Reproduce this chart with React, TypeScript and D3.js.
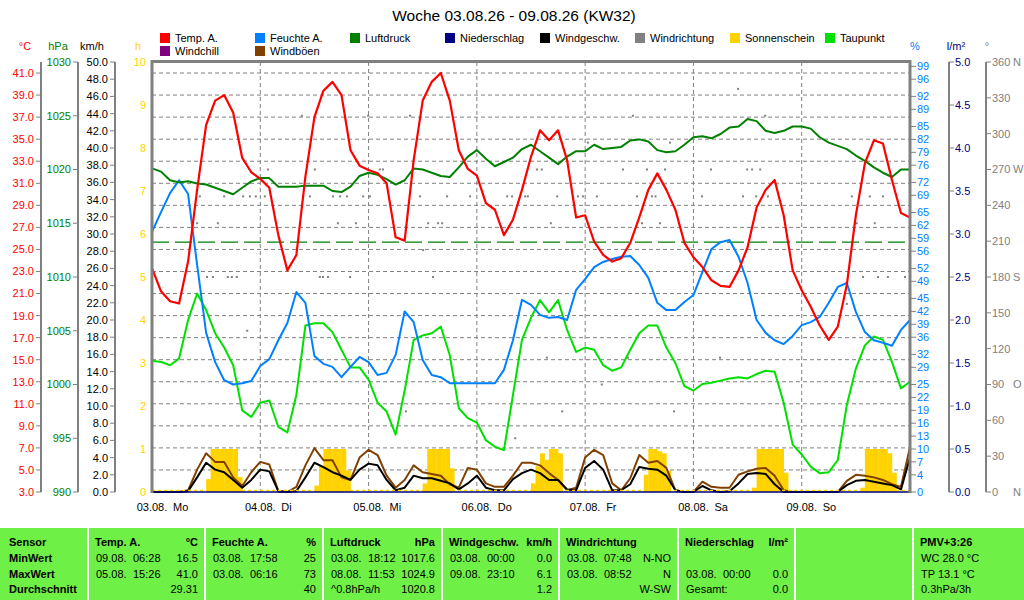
import * as d3 from "d3";
import React, { useEffect, useRef } from "react";

const W = 1024;
const H = 600;
const pL = 152;
const pR = 910;
const pT = 62;
const pB = 492;
const font = "'Liberation Sans', Arial, sans-serif";

// samples every 2 h, 03.08. 00:00 .. 10.08. 00:00
const stepH = 2;

const tempA = [
    23.3, 21.2, 20.3, 20.1, 23.9, 30.4, 36.3, 38.5, 39.0, 37.4, 33.3, 32.0,
    31.4, 30.6, 26.3, 23.1, 24.5, 31.6, 37.0, 39.4, 40.2, 39.0, 34.0, 32.6,
    32.2, 31.9, 31.0, 26.1, 25.8, 33.1, 38.5, 40.2, 41.0, 38.5, 34.0, 32.3,
    31.7, 29.2, 28.6, 26.3, 27.7, 30.4, 33.4, 35.8, 34.9, 35.8, 33.1, 27.9,
    28.1, 25.7, 24.5, 23.9, 24.2, 25.6, 27.9, 30.4, 31.9, 30.4, 28.6, 25.6,
    24.3, 23.4, 22.2, 21.7, 21.6, 23.1, 25.2, 28.8, 30.4, 31.3, 28.1, 23.1,
    21.3, 19.8, 18.1, 16.8, 18.0, 21.8, 28.1, 32.8, 34.9, 34.6, 31.3, 28.3,
    27.9,
];

const humA = [
    60.5, 65.1, 69.5, 72.5, 69.3, 52.8, 37.0, 30.2, 26.0, 25.0, 25.3, 25.8,
    29.3, 30.9, 35.3, 39.3, 46.5, 44.0, 31.6, 29.8, 29.1, 26.7, 29.1, 31.4,
    30.2, 27.2, 27.7, 31.9, 42.0, 39.5, 30.7, 27.2, 26.7, 25.3, 25.3, 25.3,
    25.3, 25.3, 25.3, 28.4, 35.3, 44.7, 43.5, 41.2, 40.5, 40.7, 40.0, 47.0,
    49.5, 52.3, 53.5, 54.2, 54.7, 54.9, 52.8, 49.8, 44.0, 42.3, 42.3, 44.2,
    45.8, 51.2, 56.5, 58.1, 58.6, 54.7, 48.6, 40.0, 37.0, 35.3, 34.4, 36.3,
    38.8, 39.5, 40.7, 44.0, 47.7, 48.6, 41.9, 37.2, 35.3, 34.7, 34.0, 37.7,
    40.0,
];

const pressure = [
    1020.1, 1019.8, 1019.0, 1018.8, 1018.9, 1018.7, 1018.6, 1018.3, 1018.0, 1017.7, 1018.3, 1018.9,
    1019.2, 1019.2, 1018.4, 1018.4, 1018.4, 1018.5, 1018.5, 1018.5, 1018.0, 1017.9, 1018.4, 1019.4,
    1019.7, 1019.5, 1019.1, 1018.6, 1019.0, 1020.1, 1020.0, 1019.7, 1019.4, 1019.3, 1020.2, 1021.2,
    1021.8, 1021.0, 1020.3, 1020.7, 1021.1, 1021.9, 1022.3, 1021.7, 1021.1, 1020.5, 1021.2, 1021.7,
    1021.7, 1022.3, 1021.9, 1022.0, 1022.1, 1022.7, 1022.8, 1022.6, 1021.8, 1021.6, 1021.7, 1022.3,
    1023.0, 1023.1, 1022.9, 1023.3, 1023.9, 1024.0, 1024.7, 1024.5, 1023.6, 1023.4, 1023.6, 1024.0,
    1024.0, 1023.8, 1023.0, 1022.5, 1022.2, 1021.9, 1021.3, 1020.8, 1020.2, 1019.7, 1019.3, 1020.0,
    1020.0,
];

const dewPoint = [
    14.9, 14.8, 14.5, 15.1, 18.6, 21.0, 19.5, 17.4, 16.1, 14.5, 10.4, 9.8,
    11.1, 11.3, 8.9, 8.4, 11.8, 18.1, 18.3, 18.3, 17.5, 15.9, 14.3, 14.3,
    13.2, 11.1, 10.3, 8.2, 12.2, 16.8, 17.2, 17.4, 18.0, 15.4, 10.6, 9.7,
    9.3, 7.7, 7.1, 6.8, 11.8, 16.8, 18.8, 20.4, 19.3, 20.4, 17.7, 15.7,
    16.1, 15.9, 14.5, 14.0, 14.3, 15.9, 17.4, 18.1, 18.1, 16.1, 14.7, 12.6,
    12.2, 12.8, 12.9, 13.1, 13.3, 13.4, 13.3, 13.7, 14.0, 13.9, 11.1, 7.3,
    6.4, 5.3, 4.7, 4.8, 5.9, 10.9, 14.2, 16.3, 17.1, 16.8, 14.8, 12.4,
    13.0,
];

const windSpeed = [
    0, 0, 0, 0, 0.1, 1.7, 3.4, 2.6, 2.3, 1.4, 0.5, 1.4,
    2.6, 2.4, 0.1, 0, 0.1, 1.7, 3.4, 2.9, 2.3, 1.9, 1.4, 2.6,
    3.3, 3.1, 1.4, 0.2, 0.5, 1.9, 1.6, 1.6, 1.3, 1.0, 0.3, 1.0,
    1.9, 0.5, 0.2, 0.2, 1.5, 2.2, 2.6, 2.2, 1.4, 1.4, 0.3, 0.2,
    2.8, 3.6, 2.6, 0.2, 0.2, 0.9, 2.9, 2.7, 2.6, 1.9, 0.2, 0,
    0, 0.7, 0.2, 0, 0.1, 1.0, 2.1, 2.2, 2.1, 0.9, 0, 0,
    0, 0, 0, 0, 0, 0.8, 1.3, 1.4, 1.2, 1.0, 0.8, 0.3,
    4.0,
];

const windGust = [
    0, 0, 0, 0, 0.2, 2.6, 4.5, 3.5, 3.5, 1.7, 0.7, 2.3,
    3.5, 3.2, 0.1, 0, 0.6, 3.1, 5.1, 3.7, 3.7, 1.7, 1.4, 4.0,
    4.9, 4.3, 1.9, 0.5, 1.4, 3.1, 2.3, 2.1, 1.9, 0.9, 0.5, 2.8,
    2.6, 1.0, 0.6, 0.6, 1.9, 3.4, 3.4, 3.1, 2.2, 1.4, 0.2, 0.5,
    4.0, 4.9, 4.3, 1.0, 0.2, 1.6, 4.3, 3.4, 3.6, 2.8, 0.2, 0,
    0, 1.2, 0.6, 0.5, 0.5, 2.0, 2.4, 2.7, 2.8, 1.9, 0.2, 0,
    0, 0, 0, 0, 0, 1.3, 2.0, 1.9, 1.7, 1.4, 0.9, 0.6,
    5.2,
];

// sunshine per hour: [hour of week, hours of sun]
const sunshine: [number, number][] = [
    [12, 0.3], [13, 1], [14, 1], [15, 1], [16, 1], [17, 1], [18, 1], [19, 0.35],
    [36, 0.15], [37, 0.6], [38, 1], [39, 1], [40, 1], [41, 1], [42, 1], [43, 0.5],
    [60, 0.2], [61, 1], [62, 1], [63, 1], [64, 1], [65, 1], [66, 0.55],
    [84, 0.2], [85, 0.6], [86, 0.9], [87, 0.75], [88, 1], [89, 1], [90, 0.9],
    [109, 0.4], [110, 1], [111, 1], [112, 0.95], [113, 0.9], [114, 0.5],
    [133, 0.1], [134, 1], [135, 1], [136, 1], [137, 1], [138, 1], [139, 1], [140, 0.45],
    [157, 0.1], [158, 1], [159, 1], [160, 1], [161, 1], [162, 1], [163, 0.9], [164, 0.45],
];

// wind direction samples: [hour of week, degrees]
const windDir: [number, number][] = [
    [10.0, 225], [10.6, 247.5], [12.2, 180], [13.5, 180], [14.6, 225], [16.0, 247.5],
    [16.8, 180], [17.7, 180], [18.8, 180], [20.2, 247.5], [21.1, 135], [21.7, 247.5],
    [23.0, 247.5], [25.0, 247.5], [25.7, 270], [33.2, 315], [35.0, 247.5], [36.1, 270],
    [37.2, 180], [37.9, 180], [39.0, 180], [40.1, 247.5], [41.2, 225], [41.7, 247.5],
    [43.2, 247.5], [43.9, 180], [45.2, 225], [46.8, 247.5], [47.9, 315], [48.3, 247.5],
    [50.5, 270], [51.2, 270], [56.3, 67.5], [57.2, 315], [59.4, 247.5], [60.1, 202.5],
    [61.2, 225], [62.3, 180], [63.4, 225], [64.3, 225], [65.4, 247.5], [70.5, 247.5],
    [78.7, 247.5], [79.8, 247.5], [80.5, 45], [81.3, 112.5], [82.7, 247.5], [83.3, 247.5],
    [85.3, 270], [86.4, 270], [87.5, 112.5], [88.4, 225], [89.8, 247.5], [90.9, 67.5],
    [94.4, 247.5], [95.5, 247.5], [96.6, 292.5], [98.6, 247.5], [99.7, 90], [104.4, 270],
    [105.5, 112.5], [106.6, 315], [107.5, 247.5], [108.6, 225], [109.7, 270], [110.8, 247.5],
    [111.6, 247.5], [112.6, 225], [113.7, 270], [114.8, 292.5], [115.7, 67.5], [121.9, 247.5],
    [123.9, 270], [125.9, 112.5], [129.9, 337.5], [131.0, 247.5], [131.9, 270], [133.0, 270],
    [133.9, 247.5], [134.8, 270], [135.9, 315], [136.5, 247.5], [154.0, 157.5], [155.1, 247.5],
    [156.2, 225], [157.6, 180], [159.1, 247.5], [160.2, 225], [160.9, 180], [162.0, 247.5],
    [163.1, 180], [166.9, 180],
];

const dayDates = ["03.08.", "04.08.", "05.08.", "06.08.", "07.08.", "08.08.", "09.08."];
const dayNames = ["Mo", "Di", "Mi", "Do", "Fr", "Sa", "So"];

const humLabels = [0, 4, 7, 10, 13, 16, 19, 22, 25, 29, 32, 36, 39, 42, 45, 49, 52, 56, 59, 62, 65, 69, 72, 76, 79, 82, 85, 89, 92, 96, 99];
const dirSuffix: Record<number, string> = { 0: "N", 90: "O", 180: "S", 270: "W", 360: "N" };

const legendNames = ["Temp. A.", "Feuchte A.", "Luftdruck", "Niederschlag", "Windgeschw.", "Windrichtung", "Sonnenschein", "Taupunkt", "Windchill", "Windböen"];
const legendColors = ["#ff0000", "#0080ff", "#008000", "#000080", "#000000", "#808080", "#ffd200", "#00e000", "#800080", "#804000"];

const sensorRows = ["Sensor", "MinWert", "MaxWert", "Durchschnitt"];
const panelTitles = ["Temp. A.", "Feuchte A.", "Luftdruck", "Windgeschw.", "Windrichtung", "Niederschlag", "", "PMV+3:26"];
const panelUnits = ["°C", "%", "hPa", "km/h", "", "l/m²", "", ""];
const panelRows: string[][][] = [
    [["09.08.", "06:28", "16.5"], ["05.08.", "15:26", "41.0"], ["", "", "29.31"]],
    [["03.08.", "17:58", "25"], ["03.08.", "06:16", "73"], ["", "", "40"]],
    [["03.08.", "18:12", "1017.6"], ["08.08.", "11:53", "1024.9"], ["^0.8hPa/h", "", "1020.8"]],
    [["03.08.", "00:00", "0.0"], ["09.08.", "23:10", "6.1"], ["", "", "1.2"]],
    [["03.08.", "07:48", "N-NO"], ["03.08.", "08:52", "N"], ["", "", "W-SW"]],
    [["", "", ""], ["03.08.", "00:00", "0.0"], ["Gesamt:", "", "0.0"]],
    [["", "", ""], ["", "", ""], ["", "", ""]],
    [["WC 28.0 °C", "", ""], ["TP 13.1 °C", "", ""], ["0.3hPa/3h", "", ""]],
];

export default function App() {
    const svgRef = useRef<SVGSVGElement | null>(null);

    useEffect(() => {
        if (!svgRef.current) return;
        const svg = d3.select(svgRef.current);
        svg.selectAll("*").remove();
        svg.attr("width", W).attr("height", H).attr("viewBox", `0 0 ${W} ${H}`)
            .style("font-family", font);

        svg.append("rect").attr("width", W).attr("height", H).attr("fill", "#fff");

        const x = d3.scaleLinear().domain([0, 168]).range([pL, pR]);
        const yT = d3.scaleLinear().domain([3, 42]).range([pB, pT]);
        const yP = d3.scaleLinear().domain([990, 1030]).range([pB, pT]);
        const yW = d3.scaleLinear().domain([0, 50]).range([pB, pT]);
        const yS = d3.scaleLinear().domain([0, 10]).range([pB, pT]);
        const yH = d3.scaleLinear().domain([0, 100]).range([pB, pT]);
        const yR = d3.scaleLinear().domain([0, 5]).range([pB, pT]);
        const yD = d3.scaleLinear().domain([0, 360]).range([pB, pT]);

        /* ---------- title & legend ---------- */
        svg.append("text").attr("x", 514).attr("y", 21).attr("text-anchor", "middle")
            .attr("font-size", "15.5px").text("Woche 03.08.26 - 09.08.26 (KW32)");

        legendNames.forEach((name, i) => {
            const col = i % 8;
            const row = Math.floor(i / 8);
            const lx = 160 + col * 95;
            const ly = 33 + row * 13;
            svg.append("rect").attr("x", lx).attr("y", ly).attr("width", 10).attr("height", 10)
                .attr("fill", legendColors[i]);
            svg.append("text").attr("x", lx + 15).attr("y", ly + 9).attr("font-size", "11px").text(name);
        });

        /* ---------- axis titles ---------- */
        const titles: [string, number, string][] = [
            ["°C", 25, "#ff0000"], ["hPa", 58, "#008000"], ["km/h", 92, "#000"],
            ["h", 138, "#ffd200"], ["%", 915, "#0080ff"], ["l/m²", 956, "#000080"],
            ["°", 987, "#808080"],
        ];
        titles.forEach(([t, tx, c]) => {
            svg.append("text").attr("x", tx).attr("y", 50).attr("text-anchor", "middle")
                .attr("font-size", "11px").attr("fill", c).text(t);
        });

        /* ---------- left axes ---------- */
        const axisLine = (ax: number) =>
            svg.append("line").attr("x1", ax).attr("x2", ax).attr("y1", pT).attr("y2", pB)
                .attr("stroke", "#808080").attr("stroke-width", 2);

        const leftAxis = (ax: number, ticks: number[], scale: d3.ScaleLinear<number, number>,
                          fmt: (v: number) => string, color: string, line: boolean) => {
            if (line) axisLine(ax);
            ticks.forEach((v) => {
                const ty = scale(v);
                if (line) {
                    svg.append("line").attr("x1", ax - 5).attr("x2", ax).attr("y1", ty).attr("y2", ty)
                        .attr("stroke", "#808080").attr("stroke-width", 1);
                }
                svg.append("text").attr("x", ax - 7).attr("y", ty).attr("dy", "0.36em")
                    .attr("text-anchor", "end").attr("font-size", "11px").attr("fill", color).text(fmt(v));
            });
        };

        leftAxis(41, d3.range(3, 42, 2), yT, (v) => v.toFixed(1), "#ff0000", true);
        leftAxis(78, d3.range(990, 1031, 5), yP, (v) => String(v), "#008000", true);
        leftAxis(115, d3.range(0, 51, 2), yW, (v) => v.toFixed(1), "#000", true);
        leftAxis(153, d3.range(0, 11, 1), yS, (v) => String(v), "#ffd200", false);

        /* ---------- right axes ---------- */
        const rightAxis = (ax: number, ticks: number[], scale: d3.ScaleLinear<number, number>,
                           fmt: (v: number) => string, color: string, line: boolean) => {
            if (line) axisLine(ax);
            ticks.forEach((v) => {
                const ty = scale(v);
                svg.append("line").attr("x1", ax).attr("x2", ax + 5).attr("y1", ty).attr("y2", ty)
                    .attr("stroke", "#808080").attr("stroke-width", 1);
                svg.append("text").attr("x", ax + 6).attr("y", ty).attr("dy", "0.36em")
                    .attr("font-size", "11px").attr("fill", color).text(fmt(v));
            });
        };

        rightAxis(911, humLabels, yH, (v) => String(v), "#0080ff", false);
        rightAxis(949, d3.range(0, 5.01, 0.5), yR, (v) => v.toFixed(1), "#000080", true);
        rightAxis(986, d3.range(0, 361, 30), yD, (v) => String(v), "#808080", true);
        Object.entries(dirSuffix).forEach(([deg, s]) => {
            svg.append("text").attr("x", 1013).attr("y", yD(+deg)).attr("dy", "0.36em")
                .attr("font-size", "11px").attr("fill", "#808080").text(s);
        });

        /* ---------- grid ---------- */
        d3.range(5, 42, 2).forEach((t) => {
            svg.append("line").attr("x1", pL).attr("x2", pR).attr("y1", yT(t)).attr("y2", yT(t))
                .attr("stroke", "#808080").attr("stroke-dasharray", "4,3");
        });
        dayDates.forEach((d, i) => {
            const dx = x(i * 24);
            if (i > 0) {
                svg.append("line").attr("x1", dx).attr("x2", dx).attr("y1", pT).attr("y2", pB)
                    .attr("stroke", "#808080").attr("stroke-dasharray", "4,3");
            }
            svg.append("text").attr("x", dx).attr("y", 511).attr("text-anchor", "middle")
                .attr("font-size", "11px").text(d);
            svg.append("text").attr("x", dx + 21).attr("y", 511)
                .attr("font-size", "11px").text(dayNames[i]);
        });

        /* ---------- sunshine ---------- */
        const bw = x(1) - x(0);
        svg.append("g").selectAll("rect").data(sunshine).join("rect")
            .attr("x", (d) => x(d[0]))
            .attr("y", (d) => yS(d[1]))
            .attr("width", bw + 0.3)
            .attr("height", (d) => pB - yS(d[1]))
            .attr("fill", "#ffd200");

        /* ---------- wind direction dots ---------- */
        svg.append("g").selectAll("rect").data(windDir).join("rect")
            .attr("x", (d) => x(d[0]) - 1)
            .attr("y", (d) => yD(d[1]) - 1)
            .attr("width", 2).attr("height", 2)
            .attr("fill", "#808080");

        /* ---------- 1013.25 hPa ---------- */
        svg.append("line").attr("x1", pL).attr("x2", pR).attr("y1", yP(1013.25)).attr("y2", yP(1013.25))
            .attr("stroke", "#008000").attr("stroke-width", 1.2).attr("stroke-dasharray", "17,6");

        /* ---------- series ---------- */
        const drawSeries = (vals: number[], scale: d3.ScaleLinear<number, number>, color: string, w: number) => {
            const line = d3.line<number>()
                .x((_, i) => x(i * stepH))
                .y((d) => scale(d));
            svg.append("path").attr("d", line(vals)).attr("fill", "none")
                .attr("stroke", color).attr("stroke-width", w).attr("stroke-linejoin", "round");
        };

        drawSeries(dewPoint, yT, "#00e000", 2);
        drawSeries(humA, yH, "#0080ff", 2);
        drawSeries(pressure, yP, "#008000", 2);
        drawSeries(windGust, yW, "#804000", 2);
        drawSeries(windSpeed, yW, "#000000", 2);
        drawSeries(tempA, yT, "#ff0000", 2.2);

        /* ---------- baseline & frame ---------- */
        svg.append("line").attr("x1", pL).attr("x2", pR).attr("y1", pB - 1.5).attr("y2", pB - 1.5)
            .attr("stroke", "#ffd200").attr("stroke-width", 1.5).attr("stroke-dasharray", "3,3");
        svg.append("line").attr("x1", pL).attr("x2", pR).attr("y1", pB).attr("y2", pB)
            .attr("stroke", "#000080").attr("stroke-width", 1.5);
        svg.append("line").attr("x1", pL - 1).attr("x2", pR + 1).attr("y1", pT - 0.5).attr("y2", pT - 0.5)
            .attr("stroke", "#808080").attr("stroke-width", 3);
        [pL, pR].forEach((fx) => {
            svg.append("line").attr("x1", fx).attr("x2", fx).attr("y1", pT - 2).attr("y2", pB + 1)
                .attr("stroke", "#808080").attr("stroke-width", 3);
        });

        /* ---------- table ---------- */
        const panelX = [0, 89, 206, 324, 443, 560, 679, 796, 914, 1026];
        const rowY = [546, 562, 578, 593];
        panelX.slice(0, -1).forEach((x0, i) => {
            svg.append("rect").attr("x", x0).attr("y", 528).attr("width", panelX[i + 1] - x0 - 2)
                .attr("height", 72).attr("fill", "#6ef046");
        });
        sensorRows.forEach((t, r) => {
            svg.append("text").attr("x", 9).attr("y", rowY[r]).attr("font-size", "11px")
                .attr("font-weight", "bold").text(t);
        });
        panelTitles.forEach((t, p) => {
            const x0 = panelX[p + 1];
            const x1 = panelX[p + 2] - 2;
            svg.append("text").attr("x", x0 + 6).attr("y", rowY[0]).attr("font-size", "11px")
                .attr("font-weight", "bold").text(t);
            svg.append("text").attr("x", x1 - 6).attr("y", rowY[0]).attr("font-size", "11px")
                .attr("font-weight", "bold").attr("text-anchor", "end").text(panelUnits[p]);
            panelRows[p].forEach((row, r) => {
                const ry = rowY[r + 1];
                svg.append("text").attr("x", x0 + 7).attr("y", ry).attr("font-size", "11px").text(row[0]);
                svg.append("text").attr("x", x0 + 44).attr("y", ry).attr("font-size", "11px").text(row[1]);
                svg.append("text").attr("x", x1 - 6).attr("y", ry).attr("font-size", "11px")
                    .attr("text-anchor", "end").text(row[2]);
            });
        });
    }, []);

    return (
        <svg ref={svgRef} style={{ position: "absolute", left: 0, top: 0, display: "block" }} />
    );
}
